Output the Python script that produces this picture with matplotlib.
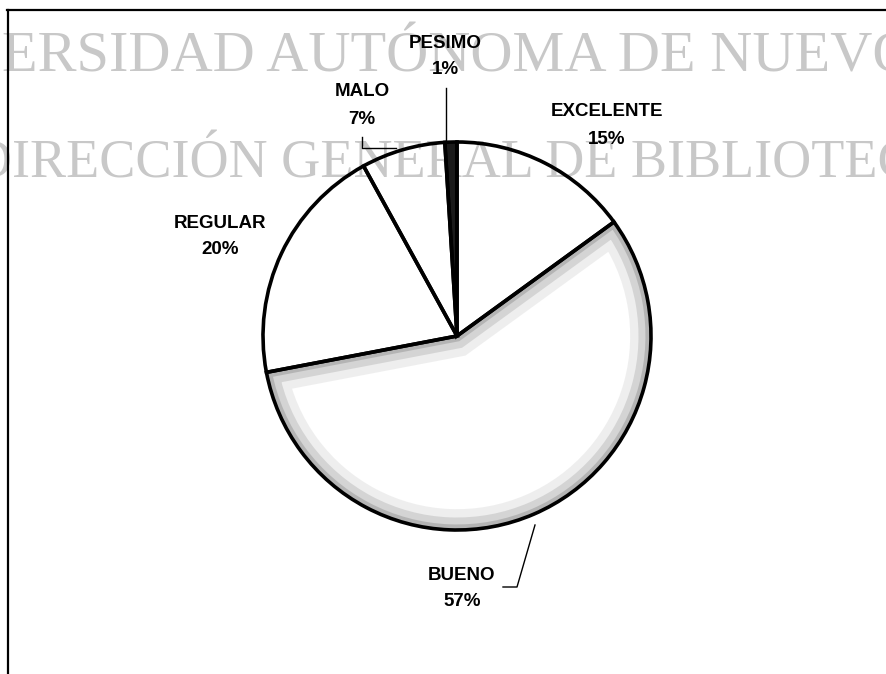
import matplotlib
matplotlib.use("Agg")
import matplotlib.pyplot as plt
import matplotlib.patches as mpatches

# datos de la grafica
categorias = ['PESIMO', 'MALO', 'REGULAR', 'BUENO', 'EXCELENTE']
porcentajes = [1, 7, 20, 57, 15]

COLORES = ['#1a1a1a', 'white', 'white', 'white', 'white']

# posiciones de las etiquetas (pixeles de la imagen, centro del texto)
POS_ETIQ = {
    'PESIMO': (445, 43),
    'MALO': (362, 92),
    'REGULAR': (220, 223),
    'BUENO': (462, 575),
    'EXCELENTE': (607, 112),
}
GUIAS = {
    'PESIMO': [(446, 88), (446, 142)],
    'MALO': [(362, 137), (362, 148), (396, 148)],
    'BUENO': [(535, 525), (517, 587), (503, 587)],
}

W, H = 886, 674
CX, CY, R = 457, 336, 194


def y(v):
    # la imagen cuenta y hacia abajo
    return H - v


fig = plt.figure(figsize=(W / 100, H / 100), dpi=100)
ax = fig.add_axes([0, 0, 1, 1])

wedges, _ = ax.pie(porcentajes, colors=COLORES, startangle=90, counterclock=True,
                   radius=R, center=(CX, y(CY)),
                   wedgeprops=dict(edgecolor='none', linewidth=0, zorder=1))
# la rebanada oscura queda encima de la marca de agua
wedges[categorias.index('PESIMO')].set_zorder(2.7)

# sombreado gris junto al borde de BUENO
wb = wedges[categorias.index('BUENO')]
for lw, a in [(30, 0.12), (18, 0.22), (8, 0.35)]:
    sombra = mpatches.Wedge(wb.center, wb.r, wb.theta1, wb.theta2,
                            facecolor='none', edgecolor='#7a7a7a', linewidth=lw,
                            alpha=a, zorder=1.5)
    ax.add_patch(sombra)
    sombra.set_clip_path(wb)

# marca de agua
ax.text(2, y(72), 'ERSIDAD AUTÓNOMA DE NUEVO', family='Liberation Serif',
        fontsize=42, color='#c8c8c8', ha='left', va='baseline', zorder=2.5)
ax.text(-27, y(178), 'DIRECCIÓN GENERAL DE BIBLIOTECAS', family='Liberation Serif',
        fontsize=39, color='#c8c8c8', ha='left', va='baseline', zorder=2.5)

# bordes negros del pastel
ax.pie(porcentajes, startangle=90, counterclock=True, radius=R, center=(CX, y(CY)),
       wedgeprops=dict(fill=False, edgecolor='black', linewidth=2.6, zorder=3))

for cat, val in zip(categorias, porcentajes):
    px, py = POS_ETIQ[cat]
    ax.text(px, y(py), cat, family=['Liberation Sans', 'DejaVu Sans'], fontsize=13.5,
            fontweight='bold', ha='center', va='center', zorder=4)
    ax.text(px, y(py + 27), f'{val}%', family=['Liberation Sans', 'DejaVu Sans'],
            fontsize=13.5, fontweight='bold', ha='center', va='center', zorder=4)

for cat, pts in GUIAS.items():
    ax.plot([p[0] for p in pts], [y(p[1]) for p in pts], color='black', lw=1.0, zorder=4)

# marco
ax.plot([7, W], [y(10), y(10)], color='black', lw=1.6, zorder=4)
ax.plot([8, 8], [y(10), 0], color='black', lw=1.6, zorder=4)

ax.set_xlim(0, W)
ax.set_ylim(0, H)
ax.set_aspect('auto')
ax.axis('off')

fig.savefig('out.png', dpi=100)
